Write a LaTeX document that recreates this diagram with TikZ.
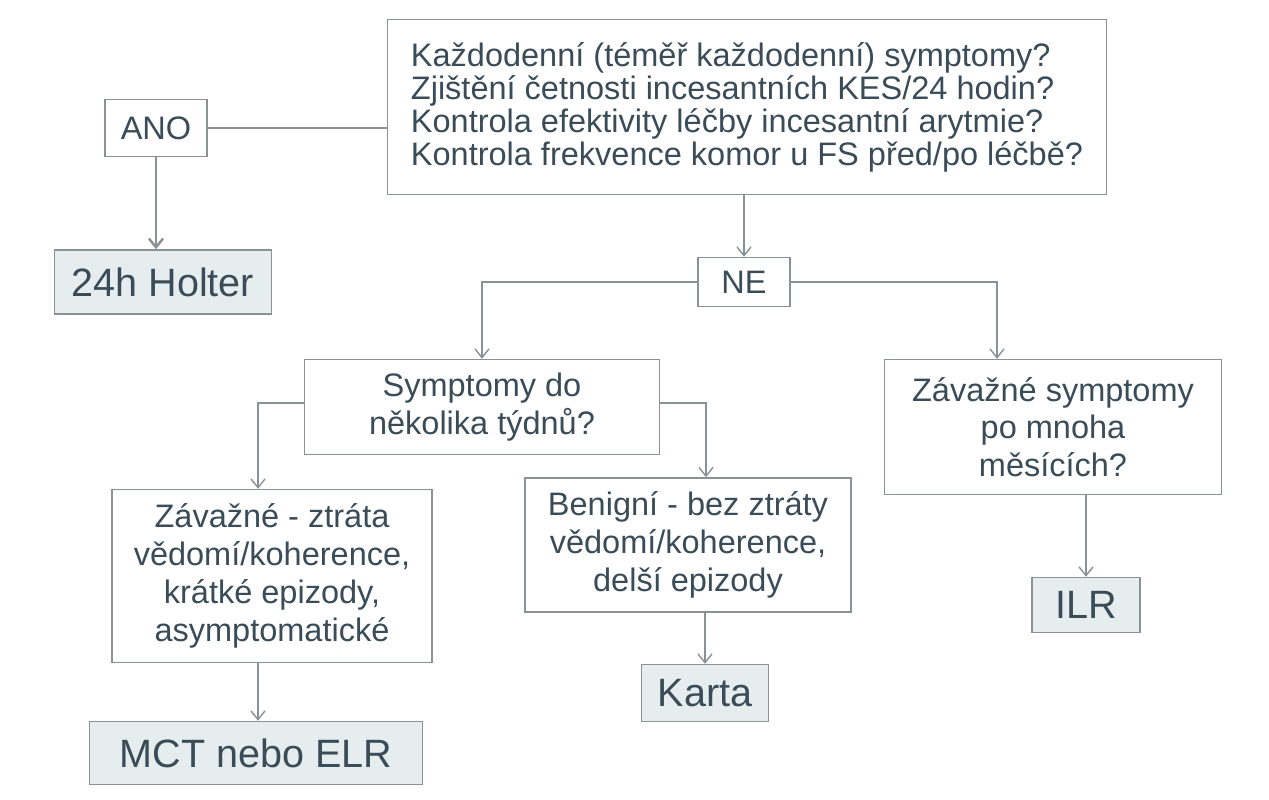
\documentclass[tikz,border=0pt]{standalone}
\usepackage{fontspec}
\setmainfont{Liberation Sans}
\usetikzlibrary{arrows.meta}
\definecolor{txt}{HTML}{3A4C58}
\definecolor{edge}{HTML}{8A9296}
\definecolor{resfill}{HTML}{E6EDEF}
\tikzset{
  box/.style={draw=edge, line width=0.8pt, text=txt, align=center, inner sep=0pt,
    font=\fontsize{18.5}{21.5}\selectfont},
  res/.style={box, fill=resfill, font=\fontsize{22.5}{26}\selectfont},
  link/.style={draw=edge, line width=0.8pt},
  arr/.style={link, -{Straight Barb[length=5pt,width=8pt]}}
}
\begin{document}
\begin{tikzpicture}[x=0.02cm,y=-0.02cm]
    \useasboundingbox (0,0) rectangle (1269,800);
    % questions
    \node[box, minimum width=14.38cm, minimum height=3.5cm, align=left, inner xsep=0.3cm,
        font=\fontsize{18.5}{18.8}\selectfont] (q) at (747,107)
        {Každodenní (téměř každodenní) symptomy?\\Zjištění četnosti incesantních KES/24 hodin?\\Kontrola efektivity léčby incesantní arytmie?\\Kontrola frekvence komor u FS před/po léčbě?};
    \node[box, minimum width=2.04cm, minimum height=1.14cm] (ano) at (156,128) {ANO};
    \node[res, minimum width=4.34cm, minimum height=1.28cm] (holter) at (163,282) {24h Holter};
    \node[box, minimum width=1.84cm, minimum height=0.98cm] (ne) at (744,282) {NE};
    \node[box, minimum width=7.1cm, minimum height=1.9cm] (tydny) at (482,407) {Symptomy do\\několika týdnů?};
    \node[box, minimum width=6.74cm, minimum height=2.7cm] (mesice) at (1053,427) {Závažné symptomy\\po  mnoha\\měsících?};
    \node[box, minimum width=6.4cm, minimum height=3.46cm] (zavazne) at (272,576) {Závažné - ztráta\\vědomí/koherence,\\krátké epizody,\\asymptomatické};
    \node[box, minimum width=6.52cm, minimum height=2.68cm] (benigni) at (688,545) {Benigní - bez ztráty\\vědomí/koherence,\\delší epizody};
    \node[res, minimum width=2.16cm, minimum height=1.1cm] (ilr) at (1086,605) {ILR};
    \node[res, minimum width=2.54cm, minimum height=1.14cm] (karta) at (705,693) {Karta};
    \node[res, minimum width=6.66cm, minimum height=1.26cm] (mct) at (256,753) {MCT nebo ELR};

    \draw[link] (q.west |- ano) -- (ano.east);
    \draw[arr, line width=1.4pt] (ano.south) -- (ano.south |- holter.north);
    \draw[arr] (q.south -| ne) -- (ne.north);
    \draw[arr] (ne.west) -| (tydny.north);
    \draw[arr] (ne.east) -| ([xshift=-1.12cm]mesice.north);
    \draw[arr] ([yshift=0.08cm]tydny.west) -| (zavazne.north -| 258,0);
    \draw[arr] ([yshift=0.08cm]tydny.east) -| ([xshift=0.36cm]benigni.north);
    \draw[arr] (mesice.south -| ilr) -- (ilr.north);
    \draw[arr] (benigni.south -| karta) -- (karta.north);
    \draw[arr] (zavazne.south -| 258,0) -- (mct.north -| 258,0);
\end{tikzpicture}
\end{document}
